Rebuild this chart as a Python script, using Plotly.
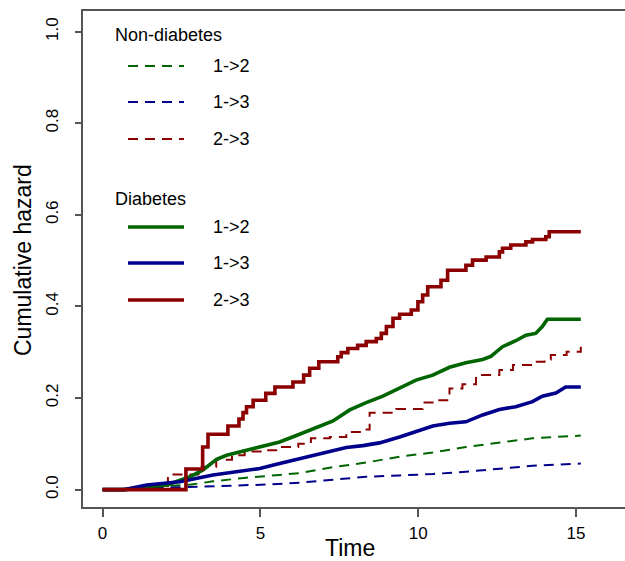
import plotly.graph_objects as go

# ---- data ----
# Diabetes (solid)
dia_12_t = [0.0, 0.7, 1.4, 2.03, 2.77, 3.18, 3.61, 3.93, 4.56, 4.98, 5.61, 6.14, 6.67, 7.3, 7.83, 8.35, 8.88, 9.41, 9.93, 10.46, 10.99, 11.51, 12.04, 12.3, 12.67, 13.09, 13.41, 13.72, 13.93, 14.09, 15.15]
dia_12_v = [0.0, 0.0, 0.006, 0.01, 0.028, 0.043, 0.066, 0.075, 0.086, 0.093, 0.104, 0.118, 0.132, 0.15, 0.174, 0.19, 0.204, 0.222, 0.239, 0.25, 0.267, 0.277, 0.284, 0.291, 0.312, 0.325, 0.337, 0.341, 0.356, 0.372, 0.372]

dia_13_t = [0.0, 0.7, 1.4, 2.45, 3.5, 4.56, 4.98, 5.61, 6.14, 6.67, 7.19, 7.72, 8.25, 8.77, 9.41, 9.93, 10.46, 10.99, 11.51, 12.04, 12.57, 13.09, 13.62, 13.93, 14.36, 14.67, 15.15]
dia_13_v = [0.0, 0.0, 0.01, 0.017, 0.032, 0.041, 0.046, 0.057, 0.066, 0.075, 0.085, 0.092, 0.096, 0.102, 0.115, 0.126, 0.139, 0.145, 0.148, 0.163, 0.175, 0.181, 0.192, 0.204, 0.211, 0.224, 0.224]

dia_23_t = [0.0, 2.64, 3.17, 3.34, 3.97, 4.32, 4.45, 4.56, 4.77, 5.17, 5.46, 6.03, 6.37, 6.56, 6.85, 7.45, 7.56, 7.77, 8.08, 8.35, 8.67, 8.83, 8.99, 9.2, 9.41, 9.78, 9.99, 10.14, 10.3, 10.72, 10.93, 11.51, 11.72, 12.15, 12.57, 12.67, 12.93, 13.41, 13.62, 14.04, 14.15, 15.15]
dia_23_v = [0.0, 0.045, 0.093, 0.121, 0.139, 0.154, 0.168, 0.181, 0.195, 0.21, 0.224, 0.235, 0.25, 0.265, 0.279, 0.29, 0.299, 0.308, 0.315, 0.323, 0.33, 0.341, 0.356, 0.374, 0.383, 0.392, 0.41, 0.425, 0.443, 0.457, 0.479, 0.49, 0.501, 0.508, 0.519, 0.527, 0.534, 0.541, 0.546, 0.552, 0.563, 0.563]

# Non-diabetes (dashed)
non_12_t = [0.0, 1.0, 2.1, 2.8, 3.5, 4.56, 5.61, 6.24, 7.3, 8.35, 9.41, 10.46, 11.51, 12.57, 13.62, 15.15]
non_12_v = [0.0, 0.002, 0.008, 0.011, 0.018, 0.026, 0.032, 0.036, 0.049, 0.059, 0.072, 0.081, 0.093, 0.102, 0.112, 0.118]

non_13_t = [0.0, 1.0, 2.5, 4.0, 5.2, 6.24, 7.3, 8.35, 9.41, 10.46, 11.51, 12.57, 13.62, 15.15]
non_13_v = [0.0, 0.002, 0.005, 0.008, 0.011, 0.015, 0.021, 0.028, 0.031, 0.034, 0.039, 0.046, 0.052, 0.057]

non_23_t = [0.0, 2.07, 3.14, 3.6, 4.1, 4.5, 5.2, 5.6, 6.2, 6.6, 7.2, 7.72, 8.2, 8.46, 9.3, 10.14, 10.5, 10.99, 11.4, 11.83, 12.57, 13.0, 13.62, 14.0, 14.2, 14.7, 15.15]
non_23_v = [0.0, 0.033, 0.05, 0.065, 0.075, 0.083, 0.086, 0.093, 0.1, 0.112, 0.115, 0.126, 0.131, 0.168, 0.176, 0.19, 0.195, 0.221, 0.23, 0.25, 0.261, 0.272, 0.279, 0.284, 0.294, 0.301, 0.312]

x_ticks = [0, 5, 10, 15]
y_ticks = [0.0, 0.2, 0.4, 0.6, 0.8, 1.0]
y_tick_text = ["0.0", "0.2", "0.4", "0.6", "0.8", "1.0"]
legend_groups = ["Non-diabetes", "Diabetes"]
legend_labels = ["1->2", "1->3", "2->3"]
x_title = "Time"
y_title = "Cumulative hazard"

GREEN = "#006400"
BLUE = "#00008B"
RED = "#8B0000"
FONT = "Liberation Sans, Arial, sans-serif"

fig = go.Figure()

def add(t, v, color, dashed, shape):
    fig.add_trace(go.Scatter(
        x=t, y=v, mode="lines", line_shape=shape,
        line=dict(color=color, width=2 if dashed else 3.6,
                  dash="10px,7px" if dashed else "solid"),
        showlegend=False, hoverinfo="skip"))

add(non_12_t, non_12_v, GREEN, True, "linear")
add(non_13_t, non_13_v, BLUE, True, "linear")
add(non_23_t, non_23_v, RED, True, "hv")
add(dia_12_t, dia_12_v, GREEN, False, "linear")
add(dia_13_t, dia_13_v, BLUE, False, "linear")
add(dia_23_t, dia_23_v, RED, False, "hv")

W, H = 625, 561
ML, MR, MT, MB = 83, 0, 11, 54
pw, ph = W - ML - MR, H - MT - MB

def px_x(p):
    return (p - ML) / pw

def px_y(p):
    return 1 - (p - MT) / ph

shapes = []
annotations = []
colors = [GREEN, BLUE, RED]
group_y = [35, 199]
entry_y = [[66, 102, 139], [227, 263, 300]]
for gi, g in enumerate(legend_groups):
    annotations.append(dict(text=g, x=px_x(113), y=px_y(group_y[gi]), xref="paper", yref="paper",
                            xanchor="left", yanchor="middle", showarrow=False,
                            font=dict(family=FONT, size=18, color="black")))
    for ei, lab in enumerate(legend_labels):
        yy = px_y(entry_y[gi][ei])
        shapes.append(dict(type="line", xref="paper", yref="paper",
                           x0=px_x(128), x1=px_x(184), y0=yy, y1=yy,
                           line=dict(color=colors[ei], width=2 if gi == 0 else 3.6,
                                     dash="10px,7px" if gi == 0 else "solid")))
        annotations.append(dict(text=lab, x=px_x(211), y=yy, xref="paper", yref="paper",
                                xanchor="left", yanchor="middle", showarrow=False,
                                font=dict(family=FONT, size=18, color="black")))

# axis titles
annotations.append(dict(text=x_title, x=px_x(350), y=px_y(548), xref="paper", yref="paper",
                        xanchor="center", yanchor="middle", showarrow=False,
                        font=dict(family=FONT, size=23, color="black")))
annotations.append(dict(text=y_title, x=px_x(23), y=px_y(260), xref="paper", yref="paper",
                        xanchor="center", yanchor="middle", showarrow=False, textangle=-90,
                        font=dict(family=FONT, size=23, color="black")))

fig.update_layout(
    width=W, height=H,
    margin=dict(l=ML, r=MR, t=MT, b=MB, pad=0, autoexpand=False),
    plot_bgcolor="white", paper_bgcolor="white",
    font=dict(family=FONT, color="black"),
    shapes=shapes, annotations=annotations,
    xaxis=dict(range=[-0.62, 16.55], tickvals=x_ticks, ticks="outside", ticklen=8,
               tickcolor="#555555", tickwidth=1.5, automargin=False,
               showline=True, linecolor="#555555", linewidth=1.5, mirror=True,
               showgrid=False, zeroline=False, ticklabelstandoff=2,
               tickfont=dict(family=FONT, size=17, color="black")),
    yaxis=dict(range=[-0.038, 1.045], tickvals=y_ticks, ticktext=y_tick_text, tickangle=-90,
               ticks="outside", ticklen=6, tickcolor="#555555", tickwidth=1.5, automargin=False,
               showline=True, linecolor="#555555", linewidth=1.5, mirror=False,
               showgrid=False, zeroline=False, ticklabelstandoff=10,
               tickfont=dict(family=FONT, size=17, color="black")),
)

fig.write_html("out.html", config={"displayModeBar": False},
               post_script="document.body.style.margin='0';document.body.style.overflow='hidden';")
